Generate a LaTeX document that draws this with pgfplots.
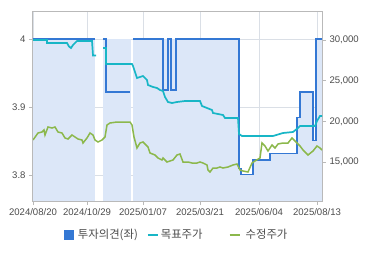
\documentclass[border=0pt]{standalone}
\usepackage{pgfplots}
\pgfplotsset{compat=1.18}
\usepackage{fontspec}
\setmainfont{Liberation Sans}
\newfontfamily\kr{Noto Sans CJK KR}
\definecolor{fillblue}{RGB}{220,231,248}
\definecolor{opblue}{RGB}{52,120,212}
\definecolor{tgtcyan}{RGB}{24,182,198}
\definecolor{prgreen}{RGB}{140,184,76}
\definecolor{gridc}{RGB}{218,223,230}
\definecolor{framec}{RGB}{185,185,185}
\definecolor{labc}{RGB}{75,75,75}
\begin{document}
\begin{tikzpicture}
\useasboundingbox (-33bp,-54bp) rectangle (337bp,201bp);
\pgfplotsset{
  base/.style={
    scale only axis, width=289bp, height=189bp,
    at={(0,0)}, anchor=south west,
    xmin=0, xmax=289,
    tick align=outside, major tick length=4bp,
    tick style={framec, line width=0.8bp},
    axis line style={framec, line width=1bp},
    ticklabel style={font=\fontsize{9.6}{11}\selectfont, text=labc},
    /pgf/number format/assume math mode=true,
  }
}
% ---------- left axis: investment opinion ----------
\begin{axis}[base,
  ymin=3.762, ymax=4.04,
  ytick={3.8,3.9,4}, ytick pos=left,
  xtick={0,54,110,167,226,284},
  xticklabels={2024/08/20,2024/10/29,2025/01/07,2025/03/21,2025/06/04,2025/08/13},
  xtick pos=bottom,
  xmajorgrids, ymajorgrids,
  grid style={gridc, line width=0.8bp},
  /pgf/number format/fixed,
]
% background fill bands
\addplot[fill=fillblue, draw=none] coordinates {(0,4) (62,4)} \closedcycle;
\addplot[fill=fillblue, draw=none] coordinates {(70,4) (97.5,4)} \closedcycle;
\addplot[fill=fillblue, draw=none] coordinates {
 (100,4) (206,4) (206,3.810) (208,3.810) (208,3.801) (220,3.801) (220,3.822)
 (237,3.822) (237,3.832) (264,3.832) (264,3.885) (267,3.885) (267,3.922)
 (280,3.922) (280,3.851) (283,3.851) (283,4) (289,4)} \closedcycle;
% opinion line
\addplot[opblue, line width=1.7bp] coordinates {(0,4) (62,4)};
\addplot[opblue, line width=1.7bp] coordinates {(70,4) (73,4) (73,3.922) (97,3.922)};
\addplot[opblue, line width=1.7bp] coordinates {
 (100,4) (130,4) (130,3.925) (135,3.925) (135,4) (138,4) (138,3.925) (143,3.925) (143,4)
 (206,4) (206,3.810) (208,3.810) (208,3.801) (220,3.801) (220,3.822)
 (237,3.822) (237,3.832) (264,3.832) (264,3.885) (267,3.885) (267,3.922)
 (280,3.922) (280,3.851) (283,3.851) (283,4) (289,4)};
\end{axis}
% ---------- right axis: prices ----------
\begin{axis}[base,
  ymin=10221, ymax=33440,
  axis x line=none,
  axis y line*=right,
  ytick={15000,20000,25000,30000},
  scaled y ticks=false,
  /pgf/number format/fixed,
  /pgf/number format/1000 sep={,},
  unbounded coords=jump,
  legend columns=3,
  legend style={draw=none, fill=none, at={(0.493,-0.18)}, anchor=center,
    font=\kr\fontsize{11.4}{13}\selectfont, text=labc,
    /tikz/column sep=0bp,
    /tikz/column 1/.style={column sep=5bp},
    /tikz/column 2/.style={column sep=9bp},
    /tikz/column 3/.style={column sep=2bp},
    /tikz/column 4/.style={column sep=26bp},
    /tikz/column 5/.style={column sep=5bp},
    nodes={inner sep=0pt}},
]
\addlegendimage{legend image code/.code={\fill[opblue] (0bp,-4.5bp) rectangle (9bp,4.5bp);}}
\addlegendentry{투자의견(좌)}
\addplot[tgtcyan, line width=1.7bp,
  legend image code/.code={\draw[tgtcyan, line width=2bp] (0bp,0bp) -- (10bp,0bp);}]
 coordinates {
 (0,30000) (14,30000) (14,29631) (34,29631) (36,29200) (38,29017) (40,29385) (42,29631)
 (44,29877) (59,29877) (60,28100) (63,28100) (66,nan)
 (70,29017) (73,29017) (73,27052) (99,27052) (100,26800) (102,26069) (104,25331)
 (107,25454) (110,25577) (114,25086) (115,24472) (120,24226) (124,24103) (127,23857)
 (130,23734) (132,22997) (135,22383) (139,22260) (144,22383) (152,22506) (167,22506)
 (169,21892) (174,21646) (179,21401) (180,21032) (190,20786) (192,20418) (205,20418)
 (206,18452) (209,18207) (240,18207) (250,18575) (260,18698) (265,19189) (267,19435)
 (282,19435) (284,20049) (287,20663) (289,20663)};
\addlegendentry{목표주가}
\addplot[prgreen, line width=1.5bp,
  legend image code/.code={\draw[prgreen, line width=2bp] (0bp,0bp) -- (10bp,0bp);}]
 coordinates {
 (0,17715) (5,18575) (9,18698) (11,18943) (12,18329) (15,19312) (19,19189) (22,19312)
 (25,18698) (29,18575) (32,17961) (35,17838) (39,18329) (42,18084) (45,17838) (49,17715)
 (50,17346) (54,17961) (57,18575) (60,18329) (62,17715) (65,17469) (69,17715) (72,18084)
 (74,19558) (77,19803) (84,19926) (97,19926) (99,19558) (101,18084) (104,16732)
 (107,17346) (110,17469) (115,16855) (117,16118) (122,15872) (125,15504) (129,15258)
 (130,15504) (134,15012) (140,15258) (144,15872) (147,15995) (150,15012) (155,15012)
 (159,14889) (164,14889) (167,15012) (170,14889) (174,14644) (175,14029) (177,13784)
 (180,14275) (184,14275) (187,14398) (190,14275) (195,14398) (200,14644) (204,14767)
 (207,14029) (210,13907) (215,13784) (219,14889) (222,15135) (227,15504) (229,17346)
 (232,16978) (235,16364) (239,17101) (242,16732) (245,17224) (250,17346) (255,17346)
 (259,17961) (262,17592) (267,16978) (270,16486) (275,15872) (280,16364) (284,16978)
 (287,16732) (289,16486)};
\addlegendentry{수정주가}
\end{axis}
\end{tikzpicture}
\end{document}
